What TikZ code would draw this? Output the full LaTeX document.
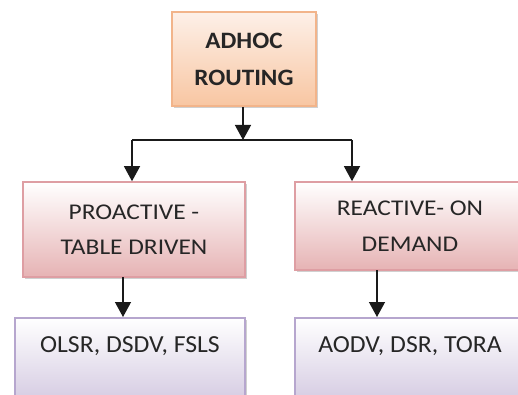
\documentclass[tikz,border=0pt]{standalone}
\usepackage{fontspec}
\setmainfont{Carlito}
\newfontfamily\topfont[FakeStretch=1.07]{Carlito}
\newfontfamily\midfont[FakeStretch=1.13]{Carlito}
\newfontfamily\botfont[FakeStretch=1.05]{Carlito}
\usetikzlibrary{arrows.meta,shadows}
\definecolor{topfillA}{HTML}{FDF0E8}
\definecolor{topfillB}{HTML}{F8C6A2}
\definecolor{topline}{HTML}{F2B48A}
\definecolor{midfillA}{HTML}{FFFFFF}
\definecolor{midfillB}{HTML}{E6B3B4}
\definecolor{midline}{HTML}{DE9EA3}
\definecolor{botfillA}{HTML}{FFFFFF}
\definecolor{botfillB}{HTML}{CFC4DE}
\definecolor{botline}{HTML}{B6A6CE}
\definecolor{arrowc}{HTML}{1A1A1A}
\definecolor{textc}{HTML}{262626}
\tikzset{
  x=1pt, y=1pt,
  boxbase/.style={rectangle, line width=1.6pt, align=center, text=textc,
    drop shadow={shadow xshift=1.5pt, shadow yshift=-2pt, fill=black!30, opacity=0.6}},
  topbox/.style={boxbase, draw=topline, top color=topfillA, bottom color=topfillB,
    font=\topfont\fontsize{23.5}{37}\selectfont\bfseries},
  midbox/.style={boxbase, draw=midline, top color=midfillA, bottom color=midfillB,
    font=\midfont\fontsize{22.5}{35.5}\selectfont},
  botbox/.style={boxbase, draw=botline, top color=botfillA, bottom color=botfillB,
    font=\botfont\fontsize{24.5}{28}\selectfont},
  conn/.style={line width=1.3pt, draw=arrowc},
  arr/.style={conn, -{Triangle[length=15pt,width=16pt]}}
}
\begin{document}
\begin{tikzpicture}
\clip (0,0) rectangle (518,-395);
\fill[white] (0,0) rectangle (518,-395);
\node[topbox, minimum width=144, minimum height=94, inner sep=0pt] (top) at (244,-59) {ADHOC\\ROUTING};
\node[midbox, minimum width=222, minimum height=95, inner sep=0pt] (mid1) at (134,-229.5) {PROACTIVE -\\TABLE DRIVEN};
\node[midbox, minimum width=230, minimum height=88, inner sep=0pt] (mid2) at (410,-226) {REACTIVE- ON\\DEMAND};
\node[botbox, anchor=north, minimum width=230, inner xsep=0pt, inner ysep=0pt,
      text height=35pt, text depth=60pt] (bot1) at (130,-317) {OLSR, DSDV, FSLS};
\node[botbox, anchor=north, minimum width=230, inner xsep=0pt, inner ysep=0pt,
      text height=35pt, text depth=60pt] (bot2) at (410,-317) {AODV, DSR, TORA};
\coordinate (j) at (243,-140);
\coordinate (jl) at (132,-140);
\coordinate (jr) at (352,-140);
\draw[arr] (top.south -| j) -- (j);
\draw[conn] (jl) -- (jr);
\draw[arr] (jl) -- (jl |- mid1.north);
\draw[arr] (jr) -- (jr |- mid2.north);
\coordinate (l2) at (123,-277);
\coordinate (r2) at (377,-270);
\draw[arr] (l2) -- (l2 |- bot1.north);
\draw[arr] (r2) -- (r2 |- bot2.north);
\end{tikzpicture}
\end{document}
